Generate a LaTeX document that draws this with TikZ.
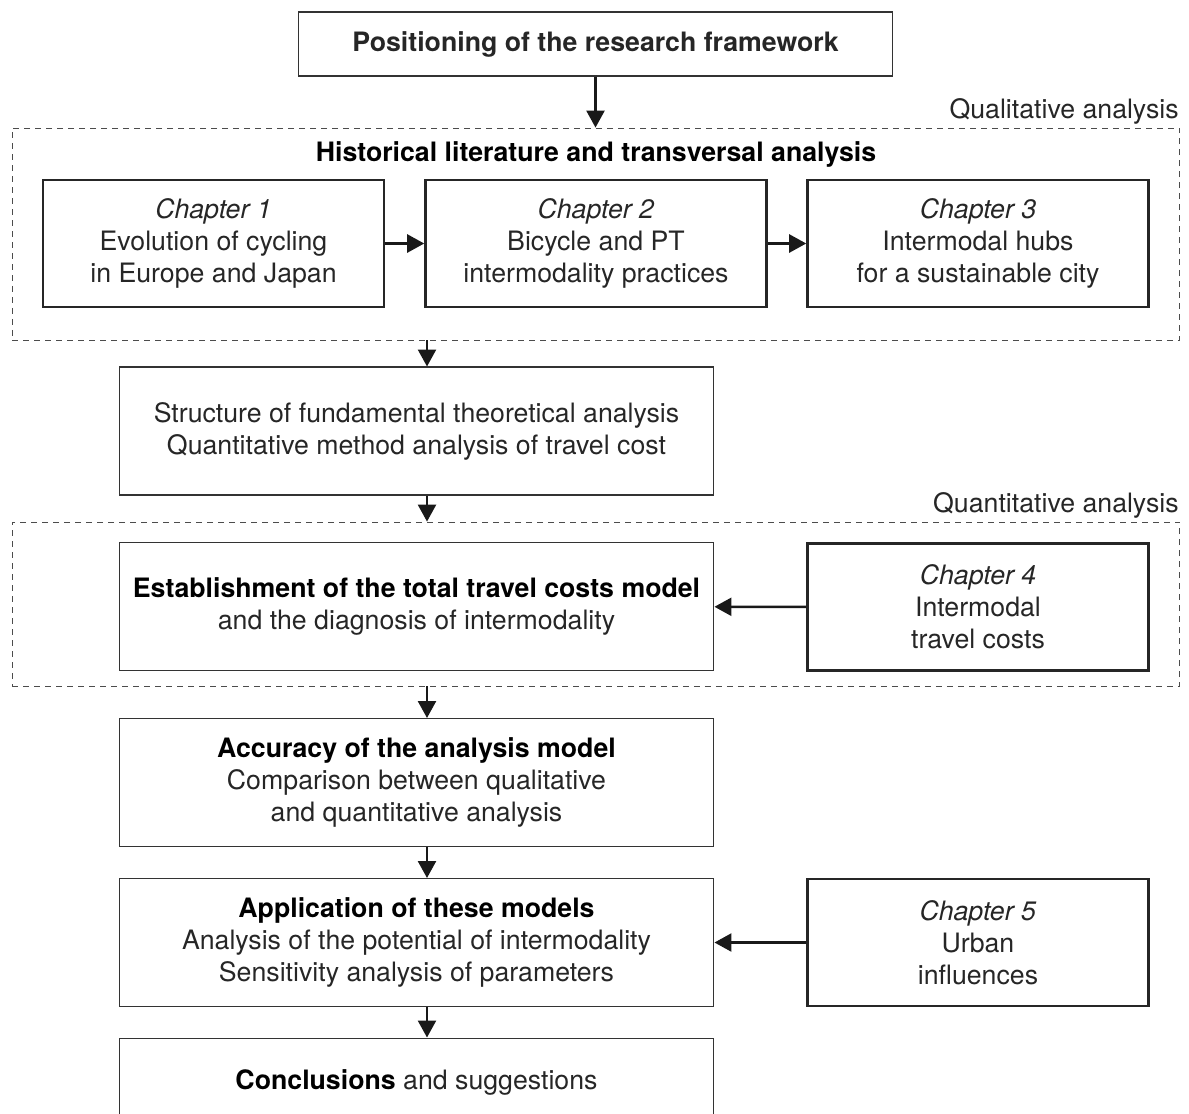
\documentclass[tikz,border=0pt]{standalone}
\usepackage{fontspec}
\setmainfont{TeX Gyre Heros}
\usetikzlibrary{arrows.meta,positioning}

\begin{document}
\begin{tikzpicture}[x=0.02cm,y=-0.02cm,
        font=\fontsize{15.2}{18.2}\selectfont,
        box/.style={draw=black!80,line width=0.6pt,align=center,text=black!85,
              minimum width=11.9cm,minimum height=2.56cm,inner sep=0pt},
        chap/.style={draw=black!85,line width=1.5pt,align=center,text=black!85,
              minimum width=6.82cm,minimum height=2.54cm,inner sep=0pt},
        grp/.style={draw=black!70,line width=0.5pt,dash pattern=on 0.12cm off 0.1cm,
              minimum width=23.36cm,inner sep=0pt},
        link/.style={-{Triangle[length=0.34cm,width=0.36cm]},line width=1.4pt,draw=black!90}]
        \useasboundingbox (0,0) rectangle (1189,1113);
        \coordinate (spine) at (427,0);

        % framework and qualitative part
        \node[box,minimum height=1.28cm] (top) at (595.5,44)
              {\textbf{Positioning of the research framework}};
        \node[grp,minimum height=4.24cm] (qual) at (596,234) {};
        \node[anchor=base east,text=black!85,inner sep=0pt] (quallabel) at (1179,118)
              {Qualitative analysis};
        \node[text=black] (hist) at (596,154)
              {\textbf{Historical literature and transversal analysis}};
        \node[chap] (ch1) at (213.5,243.5)
              {\textit{Chapter 1}\\Evolution of cycling\\in Europe and Japan};
        \node[chap] (ch2) at (596,243.5)
              {\textit{Chapter 2}\\Bicycle and PT\\intermodality practices};
        \node[chap] (ch3) at (978,243.5)
              {\textit{Chapter 3}\\Intermodal hubs\\for a sustainable city};

        \node[box] (struct) at (416.5,431)
              {Structure of fundamental theoretical analysis\\
               Quantitative method analysis of travel cost};

        % quantitative part
        \node[grp,minimum height=3.28cm] (quant) at (596,604) {};
        \node[anchor=base east,text=black!85,inner sep=0pt] (quantlabel) at (1179,512)
              {Quantitative analysis};
        \node[box] (estab) at (416.5,606.5)
              {\textbf{\color{black}Establishment of the total travel costs model}\\
               and the diagnosis of intermodality};
        \node[chap] (ch4) at (978,607)
              {\textit{Chapter 4}\\Intermodal\\travel costs};

        \node[box] (accu) at (416.5,782.5)
              {\textbf{\color{black}Accuracy of the analysis model}\\
               Comparison between qualitative\\and quantitative analysis};
        \node[box] (appl) at (416.5,942.5)
              {\textbf{\color{black}Application of these models}\\
               Analysis of the potential of intermodality\\
               Sensitivity analysis of parameters};
        \node[chap] (ch5) at (978,942.5)
              {\textit{Chapter 5}\\Urban\\influences};
        \node[box,minimum height=1.76cm] (concl) at (416.5,1082)
              {\textbf{\color{black}Conclusions} and suggestions};

        \draw[link] (top.south) -- (top.south |- qual.north);
        \draw[link] (ch1) -- (ch2);
        \draw[link] (ch2) -- (ch3);
        \draw[link] (qual.south -| spine) -- (struct.north -| spine);
        \draw[link] (struct.south -| spine) -- (quant.north -| spine);
        \draw[link] (ch4) -- (estab);
        \draw[link] (quant.south -| spine) -- (accu.north -| spine);
        \draw[link] (accu.south -| spine) -- (appl.north -| spine);
        \draw[link] (ch5) -- (appl);
        \draw[link] (appl.south -| spine) -- (concl.north -| spine);
    \end{tikzpicture}
\end{document}
